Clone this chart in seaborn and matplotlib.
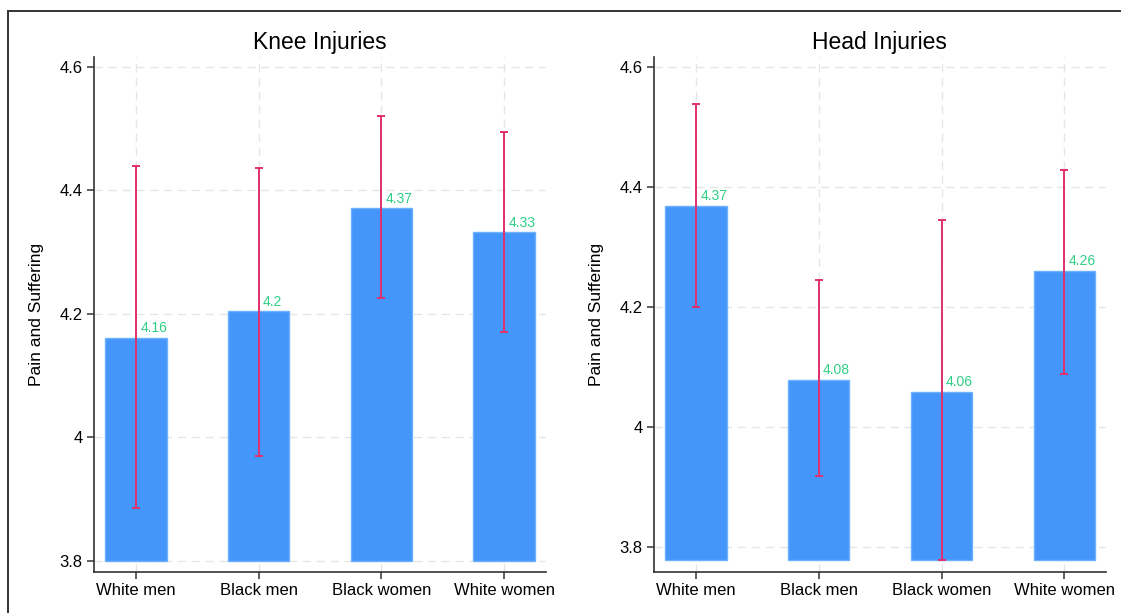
import pandas as pd
import matplotlib
matplotlib.use('Agg')
import matplotlib.pyplot as plt
from matplotlib.patches import Rectangle
import seaborn as sns

groups = ['White men', 'Black men', 'Black women', 'White women']

knee_mean = [4.161, 4.204, 4.371, 4.332]
knee_low = [3.885, 3.970, 4.225, 4.170]
knee_high = [4.440, 4.437, 4.520, 4.494]

head_mean = [4.369, 4.078, 4.059, 4.260]
head_low = [4.200, 3.918, 3.778, 4.088]
head_high = [4.538, 4.245, 4.345, 4.429]

yticks = [3.8, 4.0, 4.2, 4.4, 4.6]
ytick_labels = ['3.8', '4', '4.2', '4.4', '4.6']

sns.set_theme(style='white')
plt.rcParams['font.family'] = ['Liberation Sans', 'DejaVu Sans']
plt.rcParams['text.color'] = 'black'
plt.rcParams['axes.labelcolor'] = 'black'

bar_color = '#4596fa'
err_color = '#e0306e'
lab_color = '#2fcf86'

W, H = 1121, 613
fig = plt.figure(figsize=(W / 100, H / 100), dpi=100)

# frame around the whole figure (like the exported graph box)
fig.add_artist(Rectangle((8 / W, -0.1), 1.2, (H - 11) / H + 0.1,
                         transform=fig.transFigure, fill=False,
                         lw=1.4, ec='#333333'))

panels = [
    ('Knee Injuries', knee_mean, knee_low, knee_high, 93.5, (3.782, 4.616), 3.8),
    ('Head Injuries', head_mean, head_low, head_high, 653.6, (3.758, 4.617), 3.778),
]

for title, mean, low, high, x0, ylim, base in panels:
    ax = fig.add_axes([x0 / W, (H - 572) / H, 452.5 / W, 515 / H])
    df = pd.DataFrame({'group': groups, 'mean': mean, 'low': low, 'high': high})
    df['height'] = df['mean'] - base

    sns.barplot(data=df, x='group', y='height', bottom=base, color=bar_color,
                saturation=1, width=0.5, errorbar=None, edgecolor='#6cb2ff',
                linewidth=1, ax=ax, zorder=2)

    xs = range(len(df))
    ax.errorbar(xs, df['mean'],
                yerr=[df['mean'] - df['low'], df['high'] - df['mean']],
                fmt='none', ecolor=err_color, elinewidth=1.4, capsize=3,
                capthick=1.4, zorder=3)

    for i, row in df.iterrows():
        ax.annotate(f"{row['mean']:.2f}".rstrip('0').rstrip('.'),
                    (i, row['mean']), xytext=(3, 2), textcoords='offset points',
                    ha='left', va='bottom', fontsize=10, color=lab_color,
                    zorder=4)

    ax.set_xlim(-0.346, 3.341)
    ax.set_ylim(*ylim)
    ax.set_yticks(yticks)
    ax.set_yticklabels(ytick_labels)
    ax.set_xlabel('')
    ax.set_ylabel('Pain and Suffering', fontsize=12.5, labelpad=11)
    ax.set_title(title, fontsize=16.5, pad=6, color='black')

    ax.grid(True, axis='both', color='#e6e6e6', linestyle=(0, (6, 4)),
            linewidth=1, zorder=0)
    ax.set_axisbelow(True)
    for s in ['top', 'right']:
        ax.spines[s].set_visible(False)
    for s in ['left', 'bottom']:
        ax.spines[s].set_color('#333333')
        ax.spines[s].set_linewidth(1.2)
    ax.tick_params(axis='both', direction='out', length=5, width=1.1,
                   color='#333333', labelsize=12, labelcolor='black',
                   bottom=True, left=True, pad=3)

fig.savefig('out.png', dpi=100)
